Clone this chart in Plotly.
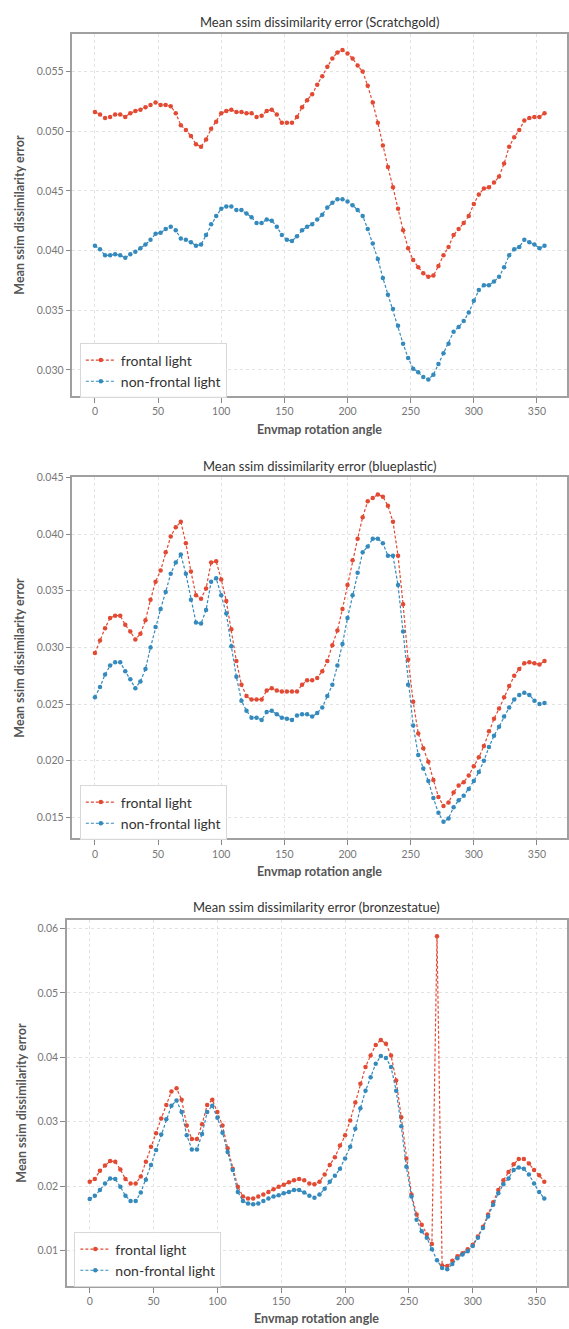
import plotly.graph_objects as go

# ---------------- data ----------------
angles = list(range(0, 360, 4))

scratch_frontal = [
    0.0516, 0.0514, 0.0511, 0.0512, 0.0514, 0.0514, 0.0512, 0.0515, 0.0517, 0.0518,
    0.0520, 0.0522, 0.0524, 0.0522, 0.0522, 0.0521, 0.0515, 0.0505, 0.0501, 0.0496,
    0.0489, 0.0487, 0.0493, 0.0502, 0.0508, 0.0515, 0.0517, 0.0518, 0.0516, 0.0516,
    0.0515, 0.0515, 0.0512, 0.0513, 0.0517, 0.0518, 0.0514, 0.0507, 0.0507, 0.0507,
    0.0512, 0.0520, 0.0526, 0.0531, 0.0539, 0.0546, 0.0554, 0.0561, 0.0566, 0.0568,
    0.0565, 0.0561, 0.0555, 0.0550, 0.0538, 0.0524, 0.0507, 0.0488, 0.0470, 0.0453,
    0.0435, 0.0417, 0.0402, 0.0392, 0.0386, 0.0381, 0.0378, 0.0379, 0.0387, 0.0396,
    0.0403, 0.0413, 0.0418, 0.0423, 0.0429, 0.0439, 0.0447, 0.0452, 0.0453, 0.0457,
    0.0462, 0.0473, 0.0487, 0.0495, 0.0501, 0.0509, 0.0511, 0.0512, 0.0512, 0.0515,
]
scratch_nonfrontal = [
    0.0404, 0.0401, 0.0396, 0.0396, 0.0397, 0.0396, 0.0394, 0.0397, 0.0399, 0.0402,
    0.0405, 0.0409, 0.0414, 0.0415, 0.0418, 0.0420, 0.0417, 0.0410, 0.0409, 0.0407,
    0.0404, 0.0405, 0.0413, 0.0422, 0.0429, 0.0435, 0.0437, 0.0437, 0.0434, 0.0434,
    0.0431, 0.0428, 0.0423, 0.0423, 0.0426, 0.0425, 0.0420, 0.0413, 0.0409, 0.0408,
    0.0412, 0.0417, 0.0420, 0.0422, 0.0426, 0.0430, 0.0436, 0.0440, 0.0443, 0.0443,
    0.0441, 0.0438, 0.0434, 0.0429, 0.0418, 0.0406, 0.0393, 0.0377, 0.0363, 0.0351,
    0.0337, 0.0322, 0.0310, 0.0301, 0.0298, 0.0294, 0.0292, 0.0296, 0.0305, 0.0314,
    0.0322, 0.0332, 0.0336, 0.0341, 0.0348, 0.0358, 0.0367, 0.0371, 0.0371, 0.0374,
    0.0378, 0.0386, 0.0396, 0.0401, 0.0403, 0.0409, 0.0407, 0.0405, 0.0402, 0.0404,
]

blue_frontal = [
    0.0295, 0.0306, 0.0317, 0.0326, 0.0328, 0.0328, 0.0320, 0.0314, 0.0307, 0.0312,
    0.0324, 0.0342, 0.0358, 0.0368, 0.0384, 0.0398, 0.0406, 0.0411, 0.0392, 0.0367,
    0.0346, 0.0343, 0.0352, 0.0375, 0.0376, 0.0360, 0.0341, 0.0316, 0.0288, 0.0267,
    0.0257, 0.0254, 0.0254, 0.0254, 0.0262, 0.0264, 0.0262, 0.0261, 0.0261, 0.0261,
    0.0261, 0.0267, 0.0271, 0.0271, 0.0273, 0.0279, 0.0288, 0.0302, 0.0315, 0.0334,
    0.0355, 0.0377, 0.0396, 0.0415, 0.0429, 0.0432, 0.0435, 0.0433, 0.0425, 0.0411,
    0.0381, 0.0338, 0.0289, 0.0252, 0.0224, 0.0211, 0.0199, 0.0183, 0.0168, 0.0160,
    0.0163, 0.0172, 0.0178, 0.0181, 0.0187, 0.0195, 0.0203, 0.0213, 0.0226, 0.0237,
    0.0246, 0.0256, 0.0266, 0.0275, 0.0281, 0.0286, 0.0287, 0.0286, 0.0285, 0.0288,
]
blue_nonfrontal = [
    0.0256, 0.0265, 0.0276, 0.0284, 0.0287, 0.0287, 0.0279, 0.0272, 0.0264, 0.0270,
    0.0281, 0.0300, 0.0318, 0.0334, 0.0349, 0.0365, 0.0375, 0.0382, 0.0365, 0.0342,
    0.0322, 0.0321, 0.0333, 0.0358, 0.0361, 0.0346, 0.0330, 0.0301, 0.0274, 0.0253,
    0.0244, 0.0238, 0.0238, 0.0236, 0.0243, 0.0244, 0.0241, 0.0238, 0.0237, 0.0236,
    0.0240, 0.0241, 0.0241, 0.0239, 0.0242, 0.0247, 0.0257, 0.0267, 0.0284, 0.0303,
    0.0326, 0.0346, 0.0366, 0.0384, 0.0389, 0.0396, 0.0396, 0.0392, 0.0381, 0.0381,
    0.0355, 0.0314, 0.0267, 0.0231, 0.0205, 0.0193, 0.0182, 0.0167, 0.0154, 0.0146,
    0.0149, 0.0159, 0.0165, 0.0169, 0.0175, 0.0182, 0.0190, 0.0200, 0.0212, 0.0222,
    0.0230, 0.0239, 0.0247, 0.0254, 0.0258, 0.0260, 0.0258, 0.0253, 0.0250, 0.0251,
]

bronze_frontal = [
    0.0207, 0.0211, 0.0224, 0.0232, 0.0239, 0.0238, 0.0226, 0.0211, 0.0204, 0.0204,
    0.0215, 0.0238, 0.0261, 0.0282, 0.0305, 0.0326, 0.0347, 0.0352, 0.0334, 0.0294,
    0.0273, 0.0273, 0.0296, 0.0326, 0.0334, 0.0315, 0.0294, 0.0259, 0.0227, 0.0199,
    0.0184, 0.0181, 0.0181, 0.0184, 0.0187, 0.0191, 0.0195, 0.0199, 0.0202, 0.0206,
    0.0209, 0.0211, 0.0209, 0.0204, 0.0203, 0.0207, 0.0218, 0.0233, 0.0245, 0.0263,
    0.0279, 0.0302, 0.0330, 0.0359, 0.0385, 0.0403, 0.0419, 0.0427, 0.0421, 0.0403,
    0.0364, 0.0307, 0.0243, 0.0187, 0.0156, 0.0140, 0.0125, 0.0110, 0.0588, 0.0077,
    0.0076, 0.0084, 0.0091, 0.0096, 0.0102, 0.0109, 0.0122, 0.0137, 0.0156, 0.0175,
    0.0194, 0.0209, 0.0222, 0.0234, 0.0242, 0.0242, 0.0235, 0.0225, 0.0217, 0.0207,
]
bronze_nonfrontal = [
    0.0180, 0.0185, 0.0194, 0.0204, 0.0212, 0.0211, 0.0199, 0.0185, 0.0177, 0.0177,
    0.0190, 0.0210, 0.0233, 0.0256, 0.0280, 0.0304, 0.0325, 0.0333, 0.0315, 0.0279,
    0.0257, 0.0257, 0.0281, 0.0315, 0.0325, 0.0306, 0.0283, 0.0253, 0.0225, 0.0191,
    0.0177, 0.0173, 0.0172, 0.0173, 0.0177, 0.0181, 0.0184, 0.0186, 0.0189, 0.0191,
    0.0194, 0.0194, 0.0190, 0.0185, 0.0182, 0.0187, 0.0196, 0.0207, 0.0216, 0.0227,
    0.0243, 0.0261, 0.0289, 0.0321, 0.0348, 0.0369, 0.0390, 0.0402, 0.0399, 0.0385,
    0.0348, 0.0293, 0.0230, 0.0184, 0.0148, 0.0130, 0.0120, 0.0102, 0.0085, 0.0073,
    0.0071, 0.0079, 0.0088, 0.0094, 0.0099, 0.0107, 0.0120, 0.0135, 0.0153, 0.0171,
    0.0189, 0.0203, 0.0212, 0.0225, 0.0229, 0.0227, 0.0218, 0.0204, 0.0191, 0.0181,
]

x_ticks = [0, 50, 100, 150, 200, 250, 300, 350]
scratch_yticks = [0.030, 0.035, 0.040, 0.045, 0.050, 0.055]
blue_yticks = [0.015, 0.020, 0.025, 0.030, 0.035, 0.040, 0.045]
bronze_yticks = [0.01, 0.02, 0.03, 0.04, 0.05, 0.06]

titles = [
    "Mean ssim dissimilarity error (Scratchgold)",
    "Mean ssim dissimilarity error (blueplastic)",
    "Mean ssim dissimilarity error (bronzestatue)",
]
series_names = ["frontal light", "non-frontal light"]
x_title = "Envmap rotation angle"
y_title = "Mean ssim dissimilarity error"

# ---------------- layout helpers ----------------
W, H = 569, 1329
RED = "#E24A33"
BLUE = "#348ABD"
FONT = "Lato, Open Sans, sans-serif"


def fx(p):
    return p / W


def fy(p):
    return 1 - p / H


panels = [
    dict(f=scratch_frontal, n=scratch_nonfrontal, yt=scratch_yticks, fmt=".3f",
         left=72.6, top=27.7, bottom=391.7, ty=16, xty=425, leg=(80, 339)),
    dict(f=blue_frontal, n=blue_nonfrontal, yt=blue_yticks, fmt=".3f",
         left=72.6, top=473.3, bottom=836, ty=461.7, xty=869, leg=(80, 783)),
    dict(f=bronze_frontal, n=bronze_nonfrontal, yt=bronze_yticks, fmt=".2f",
         left=67.1, top=917.7, bottom=1285.7, ty=905, xty=1318.5, leg=(74.5, 1232)),
]
RIGHT = 568.0

fig = go.Figure()
annotations = []
layout = {}
xmin, xmax = min(angles), max(angles)
xspan = xmax - xmin

for i, p in enumerate(panels):
    k = "" if i == 0 else str(i + 1)
    leg = "legend" + k
    for vals, name, col in ((p["f"], series_names[0], RED), (p["n"], series_names[1], BLUE)):
        fig.add_trace(go.Scatter(
            x=angles, y=vals, name=name, mode="lines+markers",
            line=dict(color=col, width=1.2, dash="3px,2px"),
            marker=dict(color=col, size=4.5),
            xaxis="x" + k, yaxis="y" + k, legend=leg,
        ))
    allv = p["f"] + p["n"]
    lo, hi = min(allv), max(allv)
    sp = hi - lo
    ylo, yhi = lo - 0.05 * sp, hi + 0.05 * sp
    # keep a boundary tick visible when it sits right on the frame
    for t in p["yt"]:
        if yhi < t <= yhi + 0.0002 * (1 + sp * 100):
            yhi = t + 0.00003
    axcommon = dict(
        showline=True, linecolor="#a0a0a0", linewidth=1.5, mirror=True,
        showgrid=True, gridcolor="#e3e3e3", gridwidth=0.8, griddash="3px,3px",
        zeroline=False, ticks="outside", ticklen=5, tickwidth=1, tickcolor="#888",
        tickfont=dict(family=FONT, size=10.5, color="#777"),
    )
    layout["xaxis" + k] = dict(
        axcommon, domain=[fx(p["left"]), fx(RIGHT)],
        range=[xmin - 0.05 * xspan, xmax + 0.05 * xspan],
        tickvals=x_ticks, anchor="y" + k,
    )
    layout["yaxis" + k] = dict(
        axcommon, domain=[fy(p["bottom"]), fy(p["top"])],
        range=[ylo, yhi],
        tickvals=p["yt"], tickformat=p["fmt"], anchor="x" + k,
    )
    layout[leg] = dict(
        x=fx(p["leg"][0]), y=fy(p["leg"][1]), xanchor="left", yanchor="top",
        xref="paper", yref="paper",
        bgcolor="rgba(255,255,255,0.9)", bordercolor="#d8d8d8", borderwidth=1,
        font=dict(family=FONT, size=14, color="#333"),
        itemwidth=30, tracegroupgap=0,
    )
    cx = fx((p["left"] + RIGHT) / 2)
    annotations.append(dict(
        text=titles[i], x=cx, y=fy(p["ty"]), xref="paper", yref="paper",
        showarrow=False, xanchor="center", yanchor="middle",
        font=dict(family=FONT, size=13, color="#333"),
    ))
    annotations.append(dict(
        text="<b>" + x_title + "</b>", x=cx, y=fy(p["xty"]), xref="paper", yref="paper",
        showarrow=False, xanchor="center", yanchor="middle",
        font=dict(family=FONT, size=12.5, color="#555"),
    ))
    annotations.append(dict(
        text="<b>" + y_title + "</b>", x=fx(20 if i < 2 else 22),
        y=fy((p["top"] + p["bottom"]) / 2), xref="paper", yref="paper",
        showarrow=False, xanchor="center", yanchor="middle", textangle=-90,
        font=dict(family=FONT, size=12.5, color="#555"),
    ))

fig.update_layout(
    width=W, height=H, margin=dict(l=0, r=0, t=0, b=0),
    paper_bgcolor="white", plot_bgcolor="white",
    annotations=annotations, showlegend=True,
    **layout,
)

fig.write_html("out.html")
